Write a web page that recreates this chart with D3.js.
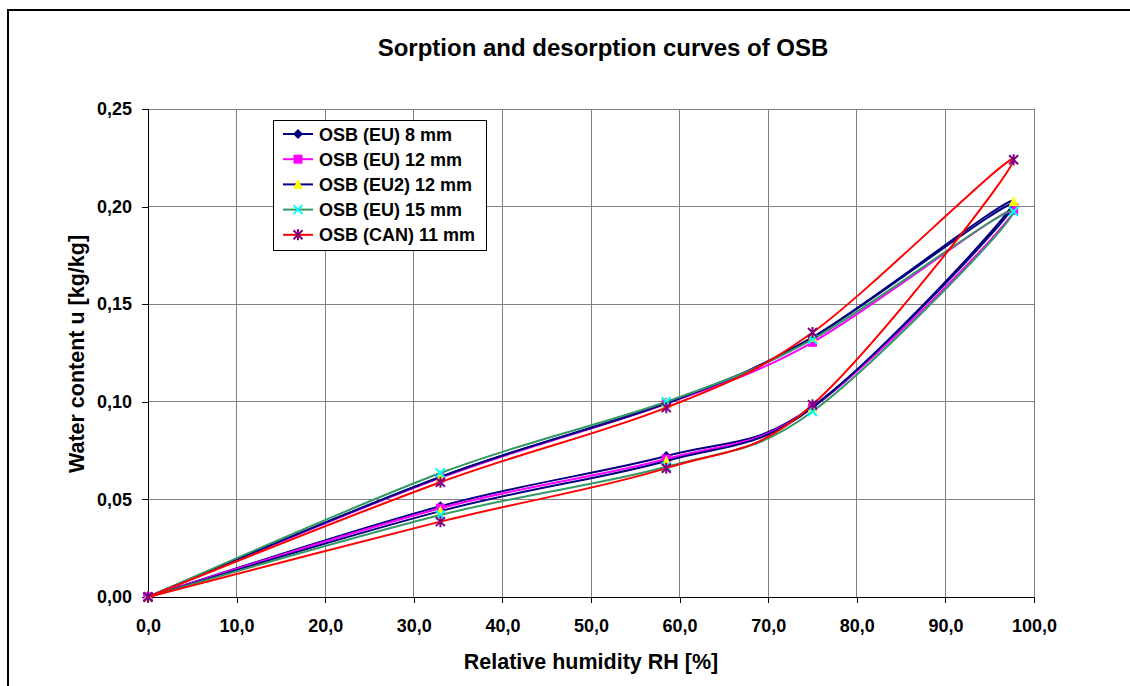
<!DOCTYPE html>
<html>
<head>
<meta charset="utf-8">
<script src="https://cdn.jsdelivr.net/npm/d3@7"></script>
<style>
body{margin:0;background:#fff;}
svg{display:block;font-family:"Liberation Sans",Arial,sans-serif;}
</style>
</head>
<body>
<svg id="chart" width="1130" height="686"></svg>
<script>
// RH points: sorption (up) then desorption (down)
const rh = [0, 33, 58.5, 75, 97.7, 75, 58.5, 33, 0];
const seriesNames = ["OSB (EU) 8 mm", "OSB (EU) 12 mm", "OSB (EU2) 12 mm", "OSB (EU) 15 mm", "OSB (CAN) 11 mm"];
const eu8  = [0, 0.0465, 0.0722, 0.0975, 0.2010, 0.1330, 0.0995, 0.0615, 0];
const eu12 = [0, 0.0455, 0.0707, 0.0970, 0.1980, 0.1305, 0.0990, 0.0610, 0];
const eu2  = [0, 0.0440, 0.0697, 0.0970, 0.2025, 0.1330, 0.0992, 0.0615, 0];
const eu15 = [0, 0.0420, 0.0667, 0.0950, 0.1975, 0.1320, 0.1000, 0.0635, 0];
const can  = [0, 0.0386, 0.0660, 0.0985, 0.2240, 0.1355, 0.0970, 0.0588, 0];
const xTicks = [0,10,20,30,40,50,60,70,80,90,100];
const yTicks = [0,0.05,0.10,0.15,0.20,0.25];

const seriesValues = [eu8, eu12, eu2, eu15, can];
const lineColors = ["#000080", "#FF00FF", "#000080", "#339966", "#FF0000"];
const markerColors = ["#000080", "#FF00FF", "#FFFF00", "#00FFFF", "#800080"];
const markerTypes = ["diamond", "square", "triangle", "x", "asterisk"];

const svg = d3.select("#chart");
const x = d3.scaleLinear().domain([0,100]).range([148,1034]);
const y = d3.scaleLinear().domain([0,0.25]).range([597,109]);

// outer frame
svg.append("path").attr("d","M8,690 V10 H1135").attr("fill","none").attr("stroke","#000").attr("stroke-width",2);

// title
svg.append("text").attr("x",603).attr("y",56).attr("text-anchor","middle")
  .attr("font-size",24).attr("font-weight","bold").text("Sorption and desorption curves of OSB");

// gridlines
svg.append("g").selectAll("line").data(xTicks.slice(1)).join("line")
  .attr("x1",d=>x(d)).attr("x2",d=>x(d)).attr("y1",y(0)).attr("y2",y(0.25))
  .attr("stroke","#808080").attr("stroke-width",1).attr("shape-rendering","crispEdges");
svg.append("g").selectAll("line").data(yTicks.slice(1)).join("line")
  .attr("x1",x(0)).attr("x2",x(100)).attr("y1",d=>y(d)).attr("y2",d=>y(d))
  .attr("stroke","#808080").attr("stroke-width",1).attr("shape-rendering","crispEdges");

// axes
const fmtY = d => d3.format(".2f")(d).replace(".",",");
const fmtX = d => d3.format(".1f")(d).replace(".",",");
const gx = svg.append("g").attr("transform",`translate(0,${y(0)})`)
  .call(d3.axisBottom(x).tickValues(xTicks).tickFormat(fmtX).tickSize(6).tickPadding(16));
const gy = svg.append("g").attr("transform",`translate(${x(0)},0)`)
  .call(d3.axisLeft(y).tickValues(yTicks).tickFormat(fmtY).tickSize(6).tickPadding(10));
[gx,gy].forEach(g=>{
  g.selectAll("path,line").attr("stroke","#000").attr("shape-rendering","crispEdges");
  g.selectAll("text").attr("font-size",18).attr("font-weight","bold").attr("fill","#000")
   .attr("font-family","'Liberation Sans',Arial,sans-serif");
});

// axis titles
svg.append("text").attr("x",591).attr("y",669).attr("text-anchor","middle")
  .attr("font-size",21.5).attr("font-weight","bold").text("Relative humidity RH [%]");
svg.append("text").attr("transform","translate(84,354) rotate(-90)").attr("text-anchor","middle")
  .attr("font-size",21.5).attr("font-weight","bold").text("Water content u [kg/kg]");

// marker drawing
function drawMarker(g, type, cx, cy, color){
  const s = 5;
  if(type==="diamond"){
    g.append("path").attr("d",`M${cx},${cy-s} L${cx+s},${cy} L${cx},${cy+s} L${cx-s},${cy} Z`).attr("fill",color);
  } else if(type==="square"){
    g.append("rect").attr("x",cx-4.5).attr("y",cy-4.5).attr("width",9).attr("height",9).attr("fill",color);
  } else if(type==="triangle"){
    g.append("path").attr("d",`M${cx},${cy-5.5} L${cx+5},${cy+4.5} L${cx-5},${cy+4.5} Z`).attr("fill",color);
  } else if(type==="x"){
    g.append("path").attr("d",`M${cx-4.5},${cy-4.5} L${cx+4.5},${cy+4.5} M${cx+4.5},${cy-4.5} L${cx-4.5},${cy+4.5}`)
      .attr("stroke",color).attr("stroke-width",2).attr("fill","none");
  } else if(type==="asterisk"){
    g.append("path").attr("d",`M${cx-4.5},${cy-4.5} L${cx+4.5},${cy+4.5} M${cx+4.5},${cy-4.5} L${cx-4.5},${cy+4.5} M${cx},${cy-5.5} L${cx},${cy+5.5}`)
      .attr("stroke",color).attr("stroke-width",2).attr("fill","none");
  }
}

// series
const line = d3.line().x(d=>x(d[0])).y(d=>y(d[1])).curve(d3.curveCardinal.tension(0));
seriesValues.forEach((vals,i)=>{
  const pts = rh.map((r,j)=>[r, vals[j]]);
  const g = svg.append("g");
  g.append("path").attr("d",line(pts)).attr("fill","none").attr("stroke",lineColors[i]).attr("stroke-width",2);
  pts.forEach(p=>drawMarker(g, markerTypes[i], x(p[0]), y(p[1]), markerColors[i]));
});

// legend
const lg = svg.append("g");
lg.append("rect").attr("x",273).attr("y",120).attr("width",213).attr("height",130)
  .attr("fill","#fff").attr("stroke","#000").attr("stroke-width",1).attr("shape-rendering","crispEdges");
seriesNames.forEach((name,i)=>{
  const cy = 134 + i*25.2;
  lg.append("line").attr("x1",283).attr("x2",313).attr("y1",cy).attr("y2",cy)
    .attr("stroke",lineColors[i]).attr("stroke-width",2);
  drawMarker(lg, markerTypes[i], 298, cy, markerColors[i]);
  lg.append("text").attr("x",319).attr("y",cy+6.5).attr("font-size",18).attr("font-weight","bold").text(name);
});
</script>
</body>
</html>
